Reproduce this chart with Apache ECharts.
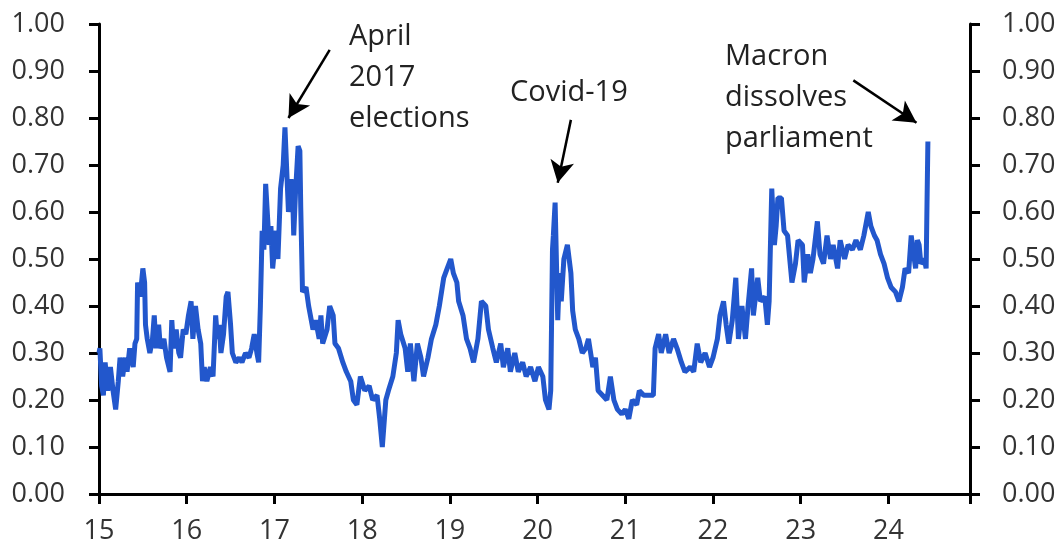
<!DOCTYPE html>
<html>
<head>
<meta charset="utf-8">
<script src="https://cdn.jsdelivr.net/npm/echarts@6/dist/echarts.min.js"></script>
<style>html,body{margin:0;padding:0;background:#fff}#c{width:1063px;height:552px}</style>
</head>
<body>
<div id="c"></div>
<script>
// x: year (15 = 2015), y: probability
const years = [
15.00,15.01,15.03,15.05,15.07,15.10,15.13,15.16,15.19,15.22,15.24,15.27,15.30,15.32,15.35,15.39,15.41,15.43,15.44,15.47,
15.50,15.52,15.53,15.55,15.58,15.61,15.63,15.65,15.68,15.70,15.74,15.77,15.81,15.83,15.85,15.88,15.91,15.93,15.96,15.99,
16.02,16.05,16.07,16.10,16.13,16.16,16.18,16.20,16.23,16.27,16.30,16.33,16.35,16.37,16.39,16.42,16.45,16.47,16.50,16.52,
16.56,16.60,16.63,16.67,16.71,16.74,16.77,16.80,16.82,16.84,16.86,16.88,16.90,16.94,16.96,16.98,17.02,17.04,17.07,17.10,
17.12,17.14,17.16,17.19,17.21,17.22,17.24,17.27,17.29,17.30,17.32,17.36,17.39,17.44,17.47,17.51,17.53,17.55,17.60,17.63,
17.67,17.69,17.73,17.78,17.82,17.87,17.90,17.94,17.98,18.03,18.08,18.12,18.17,18.20,18.23,18.27,18.30,18.35,18.39,18.41,
18.44,18.49,18.52,18.55,18.59,18.63,18.67,18.70,18.75,18.79,18.84,18.88,18.93,18.97,19.01,19.04,19.08,19.10,19.15,19.19,
19.23,19.27,19.32,19.36,19.41,19.44,19.49,19.53,19.58,19.61,19.66,19.69,19.74,19.78,19.83,19.87,19.92,19.97,20.01,20.06,
20.09,20.13,20.15,20.17,20.18,20.20,20.23,20.25,20.27,20.30,20.34,20.38,20.40,20.43,20.47,20.51,20.55,20.58,20.63,20.66,
20.69,20.74,20.79,20.83,20.87,20.91,20.96,21.00,21.04,21.08,21.13,21.16,21.21,21.26,21.32,21.34,21.38,21.41,21.46,21.50,
21.55,21.59,21.64,21.68,21.74,21.78,21.82,21.86,21.91,21.96,22.00,22.05,22.08,22.12,22.15,22.18,22.22,22.26,22.29,22.33,
22.37,22.40,22.44,22.46,22.51,22.54,22.59,22.62,22.64,22.67,22.70,22.72,22.74,22.78,22.81,22.85,22.88,22.90,22.94,22.97,
23.02,23.04,23.08,23.11,23.14,23.19,23.22,23.26,23.30,23.34,23.37,23.42,23.45,23.50,23.54,23.59,23.63,23.68,23.72,23.77,
23.80,23.84,23.87,23.91,23.95,23.99,24.03,24.08,24.12,24.16,24.19,24.23,24.26,24.28,24.31,24.33,24.35,24.37,24.41,24.43,
24.44,24.45
];
const values = [
0.30,0.31,0.23,0.21,0.28,0.22,0.27,0.22,0.18,0.24,0.29,0.25,0.29,0.26,0.31,0.27,0.32,0.33,0.45,0.42,
0.48,0.45,0.36,0.33,0.30,0.33,0.38,0.31,0.36,0.31,0.33,0.29,0.26,0.37,0.31,0.35,0.30,0.29,0.35,0.34,
0.38,0.41,0.33,0.40,0.35,0.32,0.24,0.27,0.24,0.27,0.25,0.38,0.33,0.36,0.30,0.34,0.42,0.43,0.36,0.30,
0.28,0.29,0.28,0.30,0.29,0.31,0.34,0.30,0.28,0.40,0.56,0.52,0.66,0.53,0.57,0.48,0.56,0.50,0.65,0.70,
0.78,0.78,0.60,0.67,0.62,0.55,0.64,0.74,0.73,0.61,0.43,0.44,0.40,0.35,0.37,0.33,0.38,0.32,0.35,0.40,
0.38,0.32,0.31,0.28,0.26,0.24,0.20,0.19,0.25,0.22,0.23,0.20,0.21,0.16,0.10,0.20,0.22,0.25,0.30,0.37,
0.34,0.31,0.26,0.32,0.24,0.32,0.29,0.25,0.29,0.33,0.36,0.40,0.46,0.48,0.50,0.47,0.45,0.41,0.38,0.33,
0.31,0.28,0.33,0.41,0.40,0.35,0.31,0.28,0.32,0.27,0.31,0.26,0.30,0.26,0.28,0.25,0.27,0.24,0.27,0.25,
0.20,0.18,0.22,0.52,0.55,0.62,0.37,0.47,0.41,0.50,0.53,0.47,0.39,0.35,0.33,0.30,0.31,0.33,0.27,0.29,
0.22,0.21,0.20,0.25,0.20,0.18,0.17,0.18,0.16,0.20,0.19,0.22,0.21,0.21,0.21,0.31,0.34,0.30,0.34,0.30,
0.33,0.31,0.28,0.26,0.27,0.26,0.32,0.28,0.30,0.27,0.29,0.33,0.38,0.41,0.36,0.32,0.37,0.46,0.33,0.40,
0.33,0.40,0.48,0.38,0.46,0.41,0.42,0.36,0.41,0.65,0.53,0.57,0.63,0.63,0.56,0.55,0.49,0.45,0.49,0.54,
0.53,0.45,0.51,0.47,0.50,0.58,0.51,0.49,0.55,0.50,0.53,0.48,0.54,0.50,0.53,0.52,0.54,0.52,0.55,0.60,
0.57,0.55,0.54,0.51,0.49,0.46,0.44,0.43,0.41,0.44,0.48,0.47,0.55,0.52,0.48,0.54,0.53,0.49,0.50,0.48,
0.62,0.75
];
const yTicks = [0,0.1,0.2,0.3,0.4,0.5,0.6,0.7,0.8,0.9,1.0];
const xTickLabels = ['15','16','17','18','19','20','21','22','23','24'];
const annotations = [
  {text:'April\n2017\nelections', left:349, top:16},
  {text:'Covid-19', left:510, top:72},
  {text:'Macron\ndissolves\nparliament', left:725, top:36}
];
const arrows = [
  [[17.63,0.945],[17.16,0.80]],
  [[20.38,0.796],[20.23,0.662]],
  [[23.60,0.88],[24.32,0.79]]
];

const FONT = '"Open Sans", "Noto Sans", sans-serif';
const chart = echarts.init(document.getElementById('c'));
const seriesData = years.map((y,i)=>[y, values[i]]);
const yAxisCommon = {
  type:'value', min:0, max:1, interval:0.1,
  axisLine:{show:true, lineStyle:{color:'#000', width:3}},
  axisTick:{show:true, length:10, lineStyle:{color:'#000', width:3}},
  splitLine:{show:false},
  axisLabel:{fontSize:27, fontFamily:FONT, color:'#333', formatter:v=>v.toFixed(2)}
};
chart.setOption({
  animation:false,
  grid:{left:99, right:93, top:24, bottom:58},
  xAxis:{
    type:'value', min:15, max:24.93, interval:1,
    axisLine:{show:true, onZero:false, lineStyle:{color:'#000', width:3}},
    axisTick:{show:true, length:10, lineStyle:{color:'#000', width:3}},
    splitLine:{show:false},
    axisLabel:{fontSize:27, fontFamily:FONT, color:'#333', margin:24,
      formatter:v=>{const i=Math.round(v)-15; return (Math.abs(v-Math.round(v))<1e-6 && xTickLabels[i]) ? xTickLabels[i] : '';}}
  },
  yAxis:[
    Object.assign({}, yAxisCommon, {position:'left', axisLabel:Object.assign({}, yAxisCommon.axisLabel, {margin:34})}),
    Object.assign({}, yAxisCommon, {position:'right', axisLabel:Object.assign({}, yAxisCommon.axisLabel, {margin:32})})
  ],
  series:[{
    type:'line', data:seriesData, showSymbol:false, symbol:'none',
    lineStyle:{color:'#2257CC', width:5}, z:3,
    markLine:{
      silent:true, symbol:['none','arrow'], symbolSize:[18,22],
      label:{show:false},
      lineStyle:{color:'#000', width:2.5, type:'solid'},
      data: arrows.map(a=>[{coord:a[0]},{coord:a[1]}])
    }
  }],
  graphic: annotations.map(a=>({
    type:'text', left:a.left, top:a.top,
    style:{text:a.text, fontSize:29, fontFamily:FONT, fill:'#222', lineHeight:41}
  }))
});
</script>
</body>
</html>
